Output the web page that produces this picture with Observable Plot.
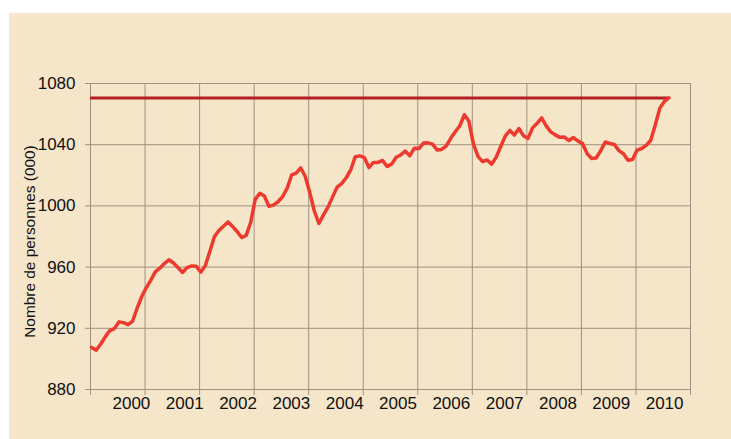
<!DOCTYPE html>
<html><head><meta charset="utf-8">
<script src="https://cdn.jsdelivr.net/npm/d3@7"></script>
<script src="https://cdn.jsdelivr.net/npm/@observablehq/plot@0.6"></script>
<style>
html,body{margin:0;padding:0;background:#fff;}
#panel{position:absolute;left:9px;top:13px;width:722px;height:426px;background:#f5e5c9;}
</style></head><body><div id="panel"></div>
<script>
// Monthly values (thousands of persons)
const values = [
  907.5, 905.6, 909.7, 914.4, 918.5, 919.8, 924.2, 923.7, 922.4, 924.6,
  933.1, 940.6, 946.4, 951.3, 956.9, 959.3, 962.3, 964.8, 962.7, 959.7,
  956.5, 959.7, 960.8, 960.6, 956.7, 960.9, 970.2, 979.8, 983.9, 986.7,
  989.5, 986.5, 983.3, 979.3, 980.7, 989.3, 1004.4, 1008.2, 1006.5, 999.7,
  1000.5, 1002.7, 1006.0, 1011.4, 1020.2, 1021.4, 1024.8, 1019.2, 1008.6, 996.5,
  988.5, 994.1, 999.2, 1005.9, 1012.2, 1014.6, 1018.4, 1023.5, 1032.2, 1032.7,
  1031.6, 1025.0, 1028.4, 1028.4, 1029.7, 1025.8, 1027.3, 1031.8, 1033.3, 1035.8,
  1032.8, 1037.7, 1037.5, 1041.1, 1041.2, 1040.4, 1036.5, 1036.9, 1039.1, 1044.2,
  1048.5, 1052.4, 1059.6, 1055.3, 1040.4, 1032.4, 1029.0, 1030.0, 1027.3, 1031.8,
  1038.8, 1045.6, 1049.3, 1046.3, 1050.6, 1045.9, 1044.1, 1051.0, 1054.0, 1057.5,
  1052.3, 1048.4, 1046.4, 1044.8, 1045.0, 1042.7, 1044.7, 1042.4, 1040.7, 1034.2,
  1031.0, 1031.3, 1036.1, 1041.8, 1040.8, 1040.1, 1036.1, 1034.1, 1029.9, 1030.3,
  1036.5, 1037.5, 1039.6, 1042.9, 1052.9, 1063.9, 1068.3, 1070.6
];
const yearLabels = [2000, 2001, 2002, 2003, 2004, 2005, 2006, 2007, 2008, 2009, 2010];
const yTicks = [880, 920, 960, 1000, 1040, 1080];
const yTitle = "Nombre de personnes (000)";

const series = values.map((v, i) => ({i: i + 0.25, v}));
const gridTicks = d3.range(0, 133, 12);
const last = series[series.length - 1];
const gridColor = "#a09282";

const chart = Plot.plot({
  width: 722,
  height: 426,
  marginLeft: 81,
  marginRight: 41,
  marginTop: 70,
  marginBottom: 50,
  style: {background: "transparent", fontFamily: "'Liberation Sans', Arial, sans-serif"},
  x: {domain: [0, 132], axis: null},
  y: {domain: [880, 1080], axis: null},
  marks: [
    Plot.gridX(gridTicks, {stroke: gridColor, strokeOpacity: 1}),
    Plot.gridY(yTicks, {stroke: gridColor, strokeOpacity: 1}),
    Plot.frame({stroke: gridColor}),
    Plot.axisY(yTicks, {label: null, tickSize: 5, tickPadding: 10, fontSize: 17, stroke: gridColor, fill: "#111", tickFormat: d => String(d)}),
    Plot.axisX(gridTicks, {label: null, tickSize: 6, stroke: gridColor, tickFormat: () => ""}),
    Plot.ruleY([last.v], {x1: 0, x2: last.i, stroke: "#b51f24", strokeWidth: 3}),
    Plot.line(series, {x: "i", y: "v", stroke: "#ee3a2e", strokeWidth: 3.5, strokeLinejoin: "round"}),
    Plot.text(yearLabels, {x: (d, k) => 9 + k * 11.73, frameAnchor: "bottom", dy: 19, text: d => String(d), fontSize: 17, fill: "#111"}),
    Plot.text([yTitle], {frameAnchor: "left", textAnchor: "middle", rotate: -90, dx: -60, dy: 5, fontSize: 15.4, fill: "#111"})
  ]
});
document.getElementById("panel").appendChild(chart);
</script>
</body></html>
